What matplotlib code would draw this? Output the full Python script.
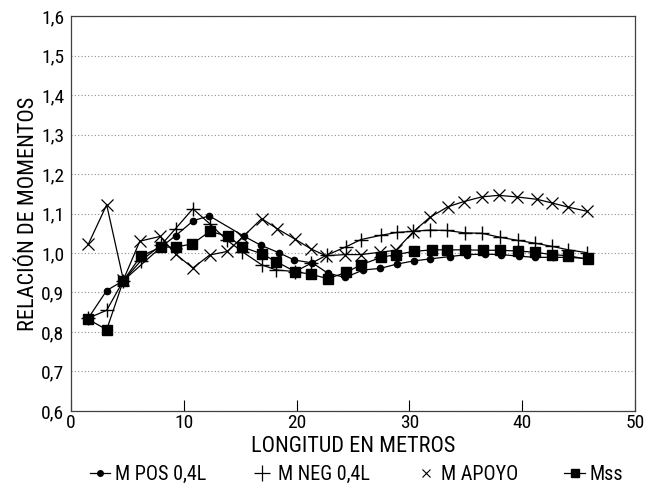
import matplotlib
matplotlib.use("Agg")
import matplotlib.pyplot as plt
from matplotlib.lines import Line2D
from matplotlib.ticker import FuncFormatter, MultipleLocator

plt.rcParams["font.family"] = ["Roboto Condensed", "Liberation Sans", "DejaVu Sans"]

# -------------------------
# Data
# -------------------------
x_pos = [1.53, 3.16, 4.64, 7.98, 9.28, 10.85, 12.26, 15.3, 16.8, 18.4, 19.8, 21.4,
         22.76, 24.3, 25.9, 27.4, 28.9, 30.4, 31.8, 33.6, 35.1, 36.7, 38.1, 39.7,
         41.1, 42.7, 44.1, 45.8]
m_pos = [0.835, 0.905, 0.93, 1.015, 1.044, 1.082, 1.094, 1.043, 1.020, 1.001, 0.982, 0.975,
         0.949, 0.938, 0.957, 0.961, 0.972, 0.980, 0.985, 0.991, 0.996, 0.997, 0.996, 0.992,
         0.989, 0.989, 0.989, 0.986]

x_neg = [1.53, 3.16, 4.64, 6.18, 7.98, 9.28, 10.8, 12.3, 13.8, 15.2, 16.9, 18.2, 19.86,
         21.3, 22.7, 24.4, 25.7, 27.5, 28.9, 30.35, 31.8, 33.3, 34.9, 36.4, 38.0, 39.6,
         41.1, 42.6, 44.1, 45.7]
m_neg = [0.835, 0.855, 0.93, 0.98, 1.02, 1.062, 1.112, 1.074, 1.033, 1.003, 0.970, 0.957, 0.953,
         0.974, 0.995, 1.016, 1.034, 1.045, 1.052, 1.055, 1.058, 1.057, 1.051, 1.05, 1.04, 1.032,
         1.025, 1.017, 1.008, 1.001]

x_apoyo = [1.53, 3.16, 4.64, 6.1, 7.9, 9.28, 10.8, 12.3, 13.85, 15.2, 16.9, 18.3, 19.86,
           21.3, 22.6, 24.3, 25.7, 27.4, 28.8, 30.35, 31.8, 33.4, 34.8, 36.4, 37.9, 39.5,
           41.3, 42.6, 44.1, 45.7]
m_apoyo = [1.022, 1.122, 0.932, 1.03, 1.042, 0.997, 0.962, 0.995, 1.004, 1.04, 1.087, 1.061, 1.035,
           1.01, 0.993, 0.996, 0.996, 1.002, 1.007, 1.054, 1.090, 1.117, 1.130, 1.142, 1.146, 1.142,
           1.136, 1.127, 1.116, 1.106]

x_mss = [1.53, 3.16, 4.64, 6.18, 7.98, 9.28, 10.75, 12.32, 13.9, 15.2, 16.9, 18.2, 19.86,
         21.3, 22.76, 24.4, 25.7, 27.5, 28.8, 30.4, 31.98, 33.3, 34.9, 36.5, 38.0, 39.6,
         41.1, 42.6, 44.1, 45.8]
mss = [0.832, 0.806, 0.93, 0.992, 1.015, 1.015, 1.023, 1.055, 1.042, 1.015, 0.998, 0.978, 0.953,
       0.946, 0.935, 0.951, 0.970, 0.989, 0.996, 1.004, 1.008, 1.008, 1.008, 1.007, 1.007, 1.005,
       1.002, 0.996, 0.993, 0.984]

labels = ["M POS 0,4L", "M NEG 0,4L", "M APOYO", "Mss"]

fig = plt.figure(figsize=(6.54, 4.88), dpi=100)
ax = fig.add_axes([0.1086, 0.1578, 0.8624, 0.8094])

lw = 0.9
ax.plot(x_pos, m_pos, "-", color="black", lw=lw, marker="o", markersize=4.5)
ax.plot(x_neg, m_neg, "-", color="black", lw=lw, marker="+", markersize=10,
        markeredgewidth=1.0)
ax.plot(x_apoyo, m_apoyo, "-", color="black", lw=lw, marker="x", markersize=8,
        markeredgewidth=0.9)
ax.plot(x_mss, mss, "-", color="black", lw=lw, marker="s", markersize=6.5)

ax.set_xlim(0, 50)
ax.set_ylim(0.6, 1.6)
ax.xaxis.set_major_locator(MultipleLocator(10))
ax.yaxis.set_major_locator(MultipleLocator(0.1))
ax.yaxis.set_major_formatter(FuncFormatter(lambda v, p: f"{v:.1f}".replace(".", ",")))
ax.tick_params(direction="in", length=8, width=0.8, labelsize=14, pad=2)
ax.tick_params(axis="y", length=0, pad=5)
ax.grid(axis="y", linestyle=(0, (1, 2)), color="#909090", linewidth=0.8)
for s in ax.spines.values():
    s.set_linewidth(0.9)
    s.set_color("#404040")

ax.set_xlabel("LONGITUD EN METROS", fontsize=16, labelpad=3)
ax.set_ylabel("RELACIÓN DE MOMENTOS", fontsize=16, labelpad=1)

handles = [
    Line2D([], [], color="black", lw=0.9, marker="o", markersize=4),
    Line2D([], [], color="black", lw=0, marker="+", markersize=11, markeredgewidth=0.9),
    Line2D([], [], color="black", lw=0, marker="x", markersize=6, markeredgewidth=0.8),
    Line2D([], [], color="black", lw=0.9, marker="s", markersize=6),
]
fig.legend(handles, labels, loc="center", bbox_to_anchor=(0.545, 0.028), ncol=4,
           frameon=False, fontsize=14.5, handlelength=1.0, handletextpad=0.25,
           columnspacing=2.3)

fig.savefig("out.png", dpi=100)
